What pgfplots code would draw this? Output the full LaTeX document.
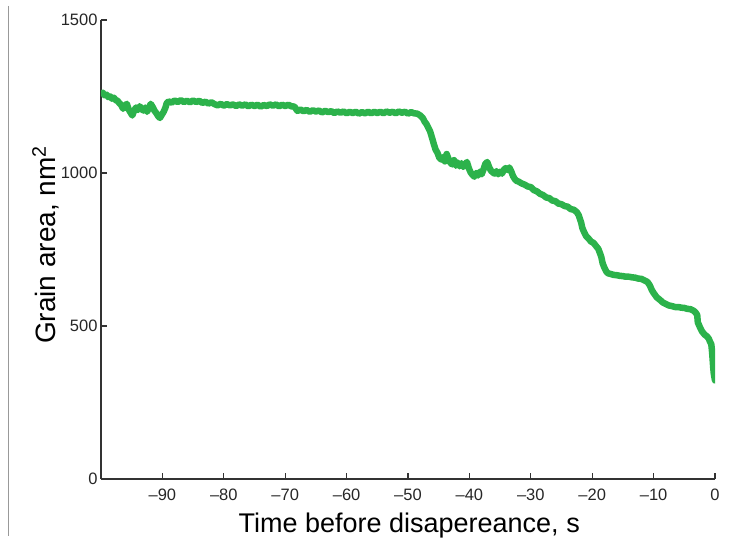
\documentclass[border=0pt]{standalone}
\usepackage{pgfplots}
\pgfplotsset{compat=1.18}
\usepackage{fontspec}
\setmainfont{Liberation Sans}
\definecolor{grn}{RGB}{44,178,75}
\definecolor{axc}{RGB}{51,51,51}
\begin{document}
\begin{tikzpicture}
\useasboundingbox (-101pt,-60pt) rectangle (637pt,479pt);
\draw[black!40, line width=0.8pt] (-93pt,473pt) -- (-93pt,-57pt);
\begin{axis}[
  at={(0,0)}, anchor=south west,
  scale only axis, width=614pt, height=459pt,
  xmin=-100, xmax=0, ymin=0, ymax=1500,
  axis x line=bottom, axis y line=left,
  axis line style={-, line width=1.2pt, color=axc},
  tick align=inside, major tick length=6pt,
  tick style={line width=1.2pt, color=axc},
  xtick={-90,-80,-70,-60,-50,-40,-30,-20,-10,0},
  xticklabels={\textendash90,\textendash80,\textendash70,\textendash60,\textendash50,\textendash40,\textendash30,\textendash20,\textendash10,0},
  ytick={0,500,1000,1500},
  yticklabels={0,500,1000,1500},
  ticklabel style={font=\fontsize{16.5}{18}\selectfont, text=black!85},
  xticklabel style={yshift=-6pt},
  xlabel={Time before disapereance, s},
  ylabel={Grain area, nm\textsuperscript{2}},
  x label style={font=\fontsize{27}{30}\selectfont, at={(axis description cs:0.502,-0.1155)}, anchor=base},
  y label style={font=\fontsize{28}{30}\selectfont, at={(axis description cs:-0.0749,0.51)}, anchor=base},
]
\addplot[color=grn, line width=6.5pt, line join=round, line cap=round] coordinates {
(-100,1260) (-99.7,1262) (-99.4,1254) (-99.1,1256) (-98.8,1248) (-98.5,1250)
(-98.2,1243) (-97.9,1246) (-97.6,1238) (-97.3,1236) (-97.0,1228) (-96.7,1222)
(-96.4,1210) (-96.1,1220) (-95.8,1226) (-95.5,1208) (-95.2,1198) (-94.9,1188)
(-94.6,1204) (-94.3,1214) (-94.0,1206) (-93.7,1218) (-93.4,1210) (-93.1,1204)
(-92.8,1214) (-92.5,1200) (-92.2,1212) (-91.9,1226) (-91.6,1216) (-91.3,1204)
(-91.0,1196) (-90.7,1186) (-90.4,1180) (-90.1,1190) (-89.8,1200) (-89.5,1214)
(-89.3,1228) (-89.0,1234)
(-88.5,1230) (-88,1237) (-87.5,1232) (-87,1238) (-86.5,1232) (-86,1236)
(-85.5,1231) (-85,1237) (-84.5,1232) (-84,1236) (-83.5,1229) (-83,1233)
(-82.5,1227) (-82,1231) (-81.5,1225) (-81,1221) (-80.5,1226) (-80,1220)
(-79.5,1225) (-79,1221) (-78.5,1224) (-78,1219) (-77.5,1224) (-77,1220)
(-76.5,1224) (-76,1218) (-75.5,1223) (-75,1219) (-74.5,1223) (-74,1217)
(-73.5,1222) (-73,1219) (-72.5,1224) (-72,1220) (-71.5,1224) (-71,1218)
(-70.5,1223) (-70,1219) (-69.5,1223) (-69,1218) (-68.5,1217) (-68.2,1208)
(-68,1203) (-67.5,1207) (-67,1202) (-66.5,1206) (-66,1200) (-65.5,1205)
(-65,1201) (-64.5,1204) (-64,1198) (-63.5,1203) (-63,1199) (-62.5,1202)
(-62,1196) (-61.5,1201) (-61,1197) (-60.5,1201) (-60,1195) (-59.5,1200)
(-59,1196) (-58.5,1200) (-58,1194) (-57.5,1199) (-57,1195) (-56.5,1200)
(-56,1195) (-55.5,1200) (-55,1196) (-54.5,1200) (-54,1195) (-53.5,1201)
(-53,1197) (-52.5,1200) (-52,1195) (-51.5,1201) (-51,1197) (-50.5,1200)
(-50,1194) (-49.5,1199) (-49,1195) (-48.5,1194) (-48,1188)
(-47.6,1180) (-47.3,1168) (-47,1160) (-46.7,1148) (-46.4,1136) (-46.1,1116)
(-45.8,1095) (-45.5,1076) (-45.2,1066) (-44.9,1050) (-44.6,1044) (-44.3,1052)
(-44,1038) (-43.7,1062) (-43.4,1046) (-43.1,1034) (-42.8,1028) (-42.5,1042)
(-42.2,1024) (-41.9,1034) (-41.6,1022) (-41.3,1032) (-41,1020) (-40.7,1028)
(-40.4,1036) (-40.1,1016) (-39.8,1002) (-39.5,994) (-39.2,988) (-38.9,1000)
(-38.6,992) (-38.3,1004) (-38,996) (-37.7,1012) (-37.4,1030) (-37.1,1036)
(-36.8,1020) (-36.5,1008) (-36.2,1002) (-35.9,998) (-35.6,1006) (-35.3,996)
(-35,1004) (-34.7,998) (-34.4,1010) (-34.1,1016) (-33.8,1010) (-33.5,1018)
(-33.2,1006) (-32.9,990) (-32.6,980) (-32.3,974) (-32,972) (-31.5,966)
(-31,962) (-30.5,956) (-30,954) (-29.5,944) (-29,940) (-28.5,932) (-28,928)
(-27.5,920) (-27,918) (-26.5,910) (-26,908) (-25.5,900) (-25,898) (-24.5,892)
(-24,890) (-23.5,882) (-23,880) (-22.5,872) (-22.2,862) (-22,850) (-21.8,838)
(-21.6,820) (-21.3,806) (-21,794) (-20.6,786) (-20.2,776) (-19.8,772)
(-19.4,762) (-19,752) (-18.7,736) (-18.5,724) (-18.3,705) (-18,690)
(-17.7,678) (-17.4,672) (-17,670) (-16.5,667) (-16,666) (-15.5,664) (-15,663)
(-14.5,661) (-14,661) (-13.5,659) (-13,658) (-12.5,655) (-12,654) (-11.5,649)
(-11,644) (-10.6,632) (-10.3,618) (-10,608) (-9.5,594) (-9,586) (-8.5,577)
(-8,572) (-7.5,567) (-7,565) (-6.5,562) (-6,562) (-5.5,560) (-5,559)
(-4.5,556) (-4,555) (-3.5,550) (-3.2,545) (-2.9,536) (-2.8,512) (-2.5,498)
(-2.1,482) (-1.7,472) (-1.3,466) (-1.0,458) (-0.8,448) (-0.6,440) (-0.5,420)
(-0.4,395) (-0.3,366) (-0.2,345) (-0.1,333) (0,322)
};
\end{axis}
\end{tikzpicture}
\end{document}
